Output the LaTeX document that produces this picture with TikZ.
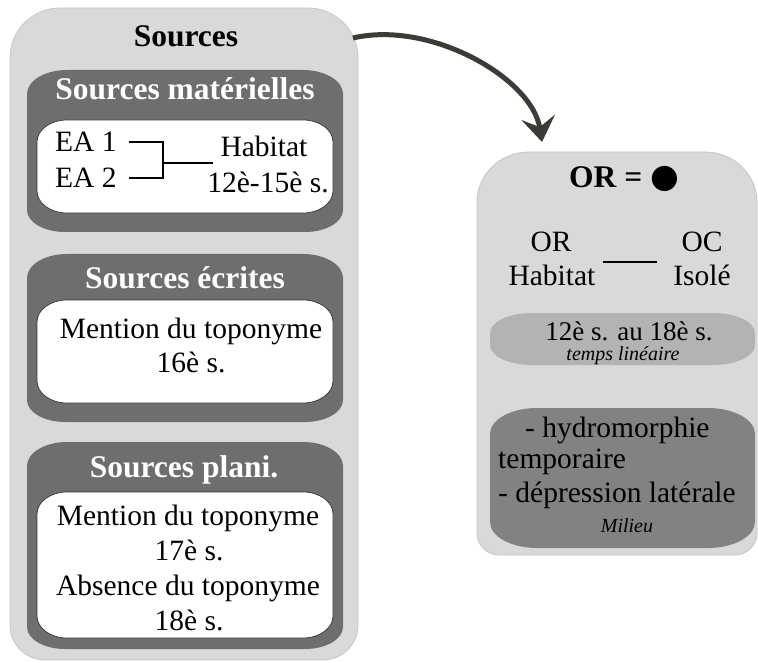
\documentclass[tikz,border=0pt]{standalone}
\usepackage{fontspec}
\setmainfont{Liberation Serif}
\newfontfamily\symfont{DejaVu Sans}
\usetikzlibrary{arrows.meta}
\definecolor{lg}{HTML}{D9D9D9}
\definecolor{lgb}{HTML}{C6C6C6}
\definecolor{dg}{HTML}{6E6E6E}
\definecolor{mg}{HTML}{B3B3B3}
\definecolor{ng}{HTML}{828282}
\definecolor{arr}{HTML}{3B3B37}
\newcommand\rbox[9]{\path[#9] ({#1+#5},#2) -- ({#3-#5},#2)
  arc[start angle=90,end angle=0,x radius=#5pt,y radius=#6pt] -- (#3,{#4-#8})
  arc[start angle=0,end angle=-90,x radius=#7pt,y radius=#8pt] -- ({#1+#7},#4)
  arc[start angle=270,end angle=180,x radius=#7pt,y radius=#8pt] -- (#1,{#2+#6})
  arc[start angle=180,end angle=90,x radius=#5pt,y radius=#6pt] -- cycle;}
\tikzset{
  tb/.style={font=\fontsize{31.5}{34}\selectfont\bfseries, inner sep=0pt, anchor=base},
  tr/.style={font=\fontsize{29.5}{34}\selectfont, inner sep=0pt, anchor=base},
  trs/.style={font=\fontsize{27}{30}\selectfont, inner sep=0pt, anchor=base},
  ti/.style={font=\fontsize{20}{22}\selectfont\itshape, inner sep=0pt, anchor=base},
  outerbox/.style={fill=lg, draw=lgb, line width=0.8pt},
  darkbox/.style={fill=dg},
  whitebox/.style={fill=white, draw=black!80, line width=0.7pt},
  link/.style={line width=2.2pt, black},
  bigarrow/.style={line width=5pt, arr, -{Stealth[length=25pt,width=34pt,inset=10pt]}},
}
\begin{document}
\begin{tikzpicture}[x=1pt,y=-1pt]
\useasboundingbox (0,0) rectangle (758,663);
% left column
\rbox{10}{8}{358}{660}{50}{50}{35}{35}{outerbox}
\rbox{27}{70}{343}{232}{40}{24}{38}{22}{darkbox}
\rbox{37}{120}{333}{213}{30}{22}{30}{22}{whitebox}
\rbox{27}{254}{343}{422}{40}{24}{38}{22}{darkbox}
\rbox{37}{300}{333}{403}{30}{22}{30}{22}{whitebox}
\rbox{27}{442}{343}{649}{40}{24}{38}{22}{darkbox}
\rbox{37}{492}{333}{638}{30}{22}{30}{22}{whitebox}
% right column
\rbox{477}{152}{757}{555}{52}{50}{22}{22}{outerbox}
\rbox{490}{313}{755}{365}{42}{20}{42}{20}{fill=mg}
\rbox{490}{408}{755}{548}{47}{26}{47}{26}{fill=ng}
% texts
\node[tb] (tSrc) at (186,47) {Sources};
\node[tb,white] (tMat) at (185,100) {Sources matérielles};
\node[tr,anchor=base west] (ea1) at (55,152) {EA 1};
\node[tr,anchor=base west] (ea2) at (55,188) {EA 2};
\node[tr] (hab) at (264,157) {Habitat};
\node[tr] (per1) at (268,193) {12è-15è s.};
\node[tb,white] (tEcr) at (185,288) {Sources écrites};
\node[tr] (m16) at (191,338) {Mention du toponyme};
\node[tr] (s16) at (191,372) {16è s.};
\node[tb,white] (tPla) at (184,477) {Sources plani.};
\node[tr] (m17) at (188,525) {Mention du toponyme};
\node[tr] (s17) at (189,560) {17è s.};
\node[tr] (a18) at (188,595) {Absence du toponyme};
\node[tr] (s18) at (189,630) {18è s.};
\node[tb] (orT) at (624,188) {OR = {\symfont\fontsize{33}{34}\selectfont ●}};
\node[tr] (or1) at (551,252) {OR};
\node[tr] (or2) at (552,285) {Habitat};
\node[tr] (oc1) at (702,252) {OC};
\node[tr] (oc2) at (702,285) {Isolé};
\node[trs] (per2) at (629,340) {12è s. au 18è s.};
\node[ti] (tl) at (623,360) {temps linéaire};
\node[tr,anchor=base west] (h1) at (525,437) {- hydromorphie};
\node[tr,anchor=base west] (h2) at (498,468) {temporaire};
\node[tr,anchor=base west] (h3) at (498,502) {- dépression latérale};
\node[ti] (mil) at (627,532) {Milieu};
% connectors
\coordinate (join) at (163,163);
\coordinate (habIn) at (213,163);
\draw[link] ([xshift=12pt]ea1.east) -| (join) |- ([xshift=12pt]ea2.east);
\draw[link] (join) -- (habIn);
\coordinate (lnA) at (603,262);
\coordinate (lnB) at (657,262);
\draw[line width=2.5pt] (lnA) -- (lnB);
\coordinate (aS) at (353,38);
\coordinate (aE) at (542,142);
\draw[bigarrow] (aS) .. controls (430,20) and (532,78) .. (aE);
\end{tikzpicture}
\end{document}
